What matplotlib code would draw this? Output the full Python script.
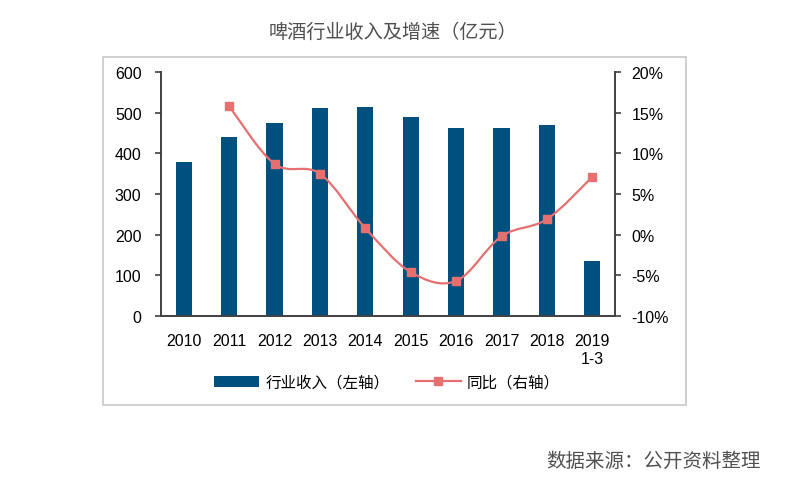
import numpy as np
import matplotlib
matplotlib.use('Agg')
from matplotlib import pyplot as plt
from matplotlib.path import Path
from matplotlib.patches import PathPatch, Rectangle, Patch
from matplotlib.lines import Line2D
from matplotlib.ticker import FuncFormatter

plt.rcParams['font.family'] = ['Liberation Sans', 'Noto Sans CJK SC', 'DejaVu Sans']

# данные
years = ['2010', '2011', '2012', '2013', '2014', '2015', '2016', '2017', '2018', '2019\n1-3']
revenue = [378, 440, 475, 511, 514, 489, 462, 462, 470, 135]
growth_years = ['2011', '2012', '2013', '2014', '2015', '2016', '2017', '2018', '2019\n1-3']
growth = [15.8, 8.7, 7.5, 0.8, -4.6, -5.7, -0.2, 1.9, 7.1]

bar_color = '#00507f'
line_color = '#e5706f'
axis_color = '#404040'


def smooth_path(xs, ys):
    """Сглаженная линия как в Excel (кривые Безье)."""
    pts = np.column_stack([xs, ys]).astype(float)
    n = len(pts)
    verts = [pts[0]]
    codes = [Path.MOVETO]
    for i in range(n - 1):
        p0 = pts[i - 1] if i > 0 else pts[i]
        p1 = pts[i]
        p2 = pts[i + 1]
        p3 = pts[i + 2] if i + 2 < n else pts[i + 1]
        c1 = p1 + (p2 - p0) / 6
        c2 = p2 - (p3 - p1) / 6
        verts += [c1, c2, p2]
        codes += [Path.CURVE4] * 3
    return Path(verts, codes)


fig = plt.figure(figsize=(7.97, 4.81), dpi=100)
fig.patches.append(Rectangle((103 / 797, 1 - 406 / 481), 583 / 797, 348 / 481,
                             transform=fig.transFigure, fill=False,
                             edgecolor='#c8c8c8', linewidth=1.2))

ax = fig.add_axes([161 / 797, 1 - 317 / 481, 454 / 797, 244 / 481])
x = np.arange(len(years))
ax.bar(x, revenue, width=0.36, color=bar_color, zorder=2)
ax.set_xlim(-0.5, len(years) - 0.5)
ax.set_ylim(0, 600)
ax.set_yticks(range(0, 601, 100))
ax.set_xticks(x)
ax.set_xticklabels(years, fontsize=11.5, linespacing=1.3)
ax.tick_params(axis='x', length=0, pad=12)
ax.tick_params(axis='y', length=4, width=1.2, color=axis_color, pad=10, labelsize=11.5)
ax.spines['top'].set_visible(False)
ax.spines['right'].set_visible(False)
for s in ('left', 'bottom'):
    ax.spines[s].set_color(axis_color)
    ax.spines[s].set_linewidth(1.4)

ax2 = ax.twinx()
ax2.set_ylim(-10, 20)
ax2.set_yticks(range(-10, 21, 5))
ax2.yaxis.set_major_formatter(FuncFormatter(lambda v, p: f'{v:.0f}%'))
ax2.tick_params(axis='y', length=4, width=1.2, color=axis_color, pad=8, labelsize=11.5)
for s in ('top', 'left', 'bottom'):
    ax2.spines[s].set_visible(False)
ax2.spines['right'].set_color(axis_color)
ax2.spines['right'].set_linewidth(1.4)

gx = [years.index(g) for g in growth_years]
ax2.add_patch(PathPatch(smooth_path(gx, growth), fill=False, edgecolor=line_color,
                        linewidth=1.6, zorder=3))
ax2.plot(gx, growth, linestyle='none', marker='s', markersize=6,
         color=line_color, zorder=4)

handles = [Patch(facecolor=bar_color, edgecolor='none'),
           Line2D([], [], color=line_color, linewidth=1.6, marker='s', markersize=6)]
labels = ['行业收入（左轴）', '同比（右轴）']
fig.legend(handles, labels, loc='center', bbox_to_anchor=(387 / 797, 1 - 383 / 481),
           ncol=2, frameon=False, handlelength=2.9, handleheight=0.7,
           handletextpad=0.4, columnspacing=1.7,
           prop={'family': ['Noto Sans CJK SC'], 'size': 11.2})

fig.text(393 / 797, 1 - 32 / 481, '啤酒行业收入及增速（亿元）', ha='center', va='center',
         fontsize=13.8, color='#505050', family=['Noto Sans CJK SC'])
fig.text(761 / 797, 1 - 461 / 481, '数据来源：公开资料整理', ha='right', va='center',
         fontsize=14, color='#505050', family=['Noto Sans CJK SC'])

fig.savefig('out.png', dpi=100)
